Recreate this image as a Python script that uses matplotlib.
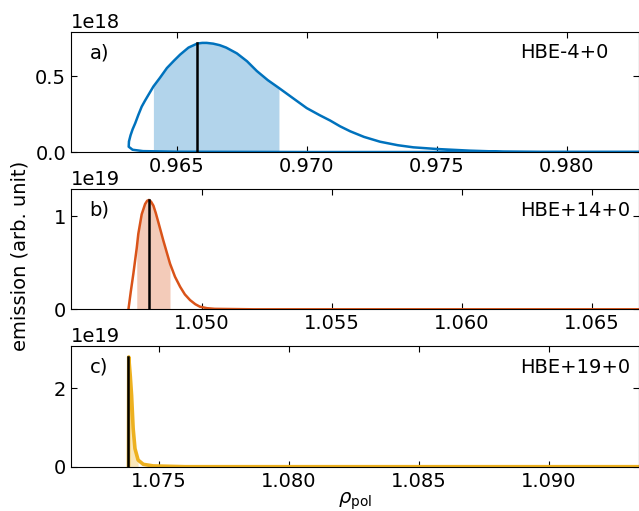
import numpy as np
import matplotlib
matplotlib.use('Agg')
from matplotlib import pyplot as plt

# panel a) HBE-4+0, emission in units of 1e18
rho_a = [0.9830, 0.9700, 0.9650, 0.9637, 0.9633, 0.96315,
         0.96316, 0.96322, 0.96330, 0.96340, 0.96352, 0.96365, 0.96378,
         0.96390, 0.96410, 0.96435, 0.96462, 0.96490, 0.96513, 0.96545,
         0.96579, 0.96598, 0.96615, 0.96640, 0.96665, 0.96690, 0.96731,
         0.96770, 0.96808, 0.96850, 0.96893, 0.96950, 0.97000, 0.97050,
         0.97090, 0.97128, 0.97167, 0.97220, 0.97282, 0.97350, 0.97410,
         0.97500, 0.97628, 0.97756, 0.97900, 0.98300]
em_a = [0.0, 0.0, 0.002, 0.006, 0.015, 0.035,
        0.07, 0.11, 0.15, 0.19, 0.245, 0.30, 0.34,
        0.375, 0.433, 0.49, 0.555, 0.605, 0.644, 0.69,
        0.717, 0.721, 0.721, 0.716, 0.706, 0.690, 0.652,
        0.600, 0.535, 0.475, 0.423, 0.352, 0.29, 0.243,
        0.208, 0.170, 0.137, 0.10, 0.068, 0.045, 0.031,
        0.020, 0.009, 0.002, 0.0, 0.0]
fill_a = (0.96410, 0.96893)
peak_a = (0.96579, 0.72)

# panel b) HBE+14+0, units of 1e19
rho_b = [1.04718, 1.04727, 1.04737, 1.04750, 1.04756, 1.04769, 1.04782,
         1.04790, 1.04797, 1.04805, 1.04814, 1.04823, 1.04833, 1.04852,
         1.04878, 1.04897, 1.04917, 1.04935, 1.04955, 1.04975, 1.04993,
         1.0502, 1.0505, 1.0520, 1.0670]
em_b = [0.0, 0.19, 0.384, 0.66, 0.811, 1.02, 1.13,
        1.165, 1.174, 1.155, 1.113, 1.035, 0.935, 0.74,
        0.49, 0.35, 0.241, 0.16, 0.099, 0.055, 0.028,
        0.012, 0.005, 0.0, 0.0]
fill_b = (1.04750, 1.04878)
peak_b = (1.04797, 1.174)

# panel c) HBE+19+0, units of 1e19
rho_c = [1.07383, 1.07384, 1.07390, 1.07395, 1.07401, 1.07408, 1.07420,
         1.07440, 1.07478, 1.0760, 1.0935]
em_c = [0.0, 2.79, 2.3, 1.81, 0.97, 0.46, 0.17,
        0.06, 0.02, 0.0, 0.0]
fill_c = (1.07384, 1.07420)
peak_c = (1.07382, 2.79)

labels = ['a)', 'b)', 'c)']
names = ['HBE-4+0', 'HBE+14+0', 'HBE+19+0']
exps = [18, 19, 19]
colors = ['#0072BD', '#D95319', '#EDB120']
widths = [1.8, 1.8, 2.6]
xlims = [(0.96093, 0.98278), (1.04497, 1.06682), (1.07162, 1.09346)]
xticks = [[0.965, 0.970, 0.975, 0.980],
          [1.050, 1.055, 1.060, 1.065],
          [1.075, 1.080, 1.085, 1.090]]
yticks = [[0, 0.5], [0, 1], [0, 2]]

plt.rcParams['font.size'] = 14
plt.rcParams['xtick.direction'] = 'in'
plt.rcParams['ytick.direction'] = 'in'
plt.rcParams['xtick.top'] = True
plt.rcParams['ytick.right'] = True
plt.rcParams['xtick.major.size'] = 4
plt.rcParams['ytick.major.size'] = 4

fig = plt.figure(figsize=(6.39, 5.11), dpi=100)
boxes = [(0.7025, 0.2349), (0.3947, 0.2354), (0.0867, 0.2362)]

data = [(rho_a, em_a, fill_a, peak_a), (rho_b, em_b, fill_b, peak_b),
        (rho_c, em_c, fill_c, peak_c)]

for i, (rho, em, fr, pk) in enumerate(data):
    ax = fig.add_axes([0.1111, boxes[i][0], 0.8889, boxes[i][1]])
    s = 10.0 ** exps[i]
    rho = np.array(rho)
    em = np.array(em) * s
    # shaded region under the upper branch
    if i == 0:
        up = np.arange(6, len(rho))
    else:
        up = np.arange(len(rho))
    r_up = rho[up]
    e_up = em[up]
    m = (r_up >= fr[0] - 1e-9) & (r_up <= fr[1] + 1e-9)
    ax.fill_between(r_up[m], 0, e_up[m], color=colors[i], alpha=0.3, lw=0)
    ax.plot(rho, em, color=colors[i], lw=widths[i])
    ax.plot([pk[0], pk[0]], [0, pk[1] * s], color='black', lw=1.8)
    ax.set_xlim(xlims[i])
    ax.set_ylim(0, 1.1 * max(em))
    ax.set_xticks(xticks[i])
    ax.set_xticklabels(['%.3f' % t for t in xticks[i]])
    ax.set_yticks([t * s for t in yticks[i]])
    ax.ticklabel_format(axis='y', style='sci', scilimits=(exps[i], exps[i]))
    ax.text(0.033, 0.825, labels[i], transform=ax.transAxes, va='center')
    ax.text(0.790, 0.825, names[i], transform=ax.transAxes, va='center')
    if i == 2:
        ax.set_xlabel(r'$\rho_{\rm pol}$', labelpad=0)

fig.text(0.031, 0.5, 'emission (arb. unit)', rotation=90, va='center', ha='center')
plt.savefig('out.png', dpi=100)
